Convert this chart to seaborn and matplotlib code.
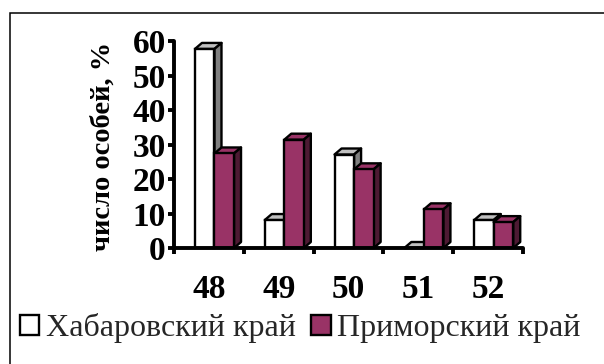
import numpy as np
import pandas as pd
import matplotlib
matplotlib.use("Agg")
import matplotlib.pyplot as plt
from matplotlib.patches import Polygon, Rectangle
import seaborn as sns

# Data
categories = ["48", "49", "50", "51", "52"]
series_names = ["Хабаровский край", "Приморский край"]
khabarovsk = [57.7, 8.1, 27.1, 0.0, 8.1]
primorsky = [27.4, 31.4, 22.8, 11.2, 7.5]
y_ticks = [0, 10, 20, 30, 40, 50, 60]

front_colors = ["#ffffff", "#993366"]
top_colors = ["#c0c0c0", "#993366"]
side_colors = ["#808080", "#4d1a33"]

df = pd.DataFrame({
    "cat": categories * 2,
    "region": [series_names[0]] * 5 + [series_names[1]] * 5,
    "val": khabarovsk + primorsky,
})

sns.set_theme(style="white")
plt.rcParams["font.family"] = ["Liberation Serif", "DejaVu Serif"]

W, H = 604, 364
fig = plt.figure(figsize=(W / 100, H / 100), dpi=100)
ax_l, ax_r, ax_t, ax_b = 174, 523, 41, 248
ax = fig.add_axes([ax_l / W, 1 - ax_b / H, (ax_r - ax_l) / W, (ax_b - ax_t) / H])

sns.barplot(data=df, x="cat", y="val", hue="region", order=categories,
            hue_order=series_names, palette=front_colors, width=0.56,
            edgecolor="black", linewidth=1.7, saturation=1, ax=ax, legend=False)

ax.set_xlim(-0.5, 4.5)
ax.set_ylim(0, 60)

# depth of the 3-D effect, in pixels converted to data units
depth_px_x, depth_px_y = 7.0, 6.0
dx = depth_px_x * 5.0 / (ax_r - ax_l)
dy = depth_px_y * 60.0 / (ax_b - ax_t)
shift = 0.08

bars = list(ax.patches)
for i, p in enumerate(bars):
    s = i // len(categories)
    p.set_x(p.get_x() + shift)
    x0, y0 = p.get_x(), p.get_y()
    x1, y1 = x0 + p.get_width(), y0 + p.get_height()
    base = 2 + s * 3
    top = Polygon([(x0, y1), (x1, y1), (x1 + dx, y1 + dy), (x0 + dx, y1 + dy)],
                  closed=True, facecolor=top_colors[s], edgecolor="black",
                  linewidth=1.7, zorder=base, clip_on=False, joinstyle="round")
    side = Polygon([(x1, y0), (x1 + dx, y0 + dy), (x1 + dx, y1 + dy), (x1, y1)],
                   closed=True, facecolor=side_colors[s], edgecolor="black",
                   linewidth=1.7, zorder=base + 1, clip_on=False, joinstyle="round")
    ax.add_patch(top)
    ax.add_patch(side)
    p.set_zorder(base + 2)
    p.set_clip_on(False)

# axes styling
for sp in ["top", "right"]:
    ax.spines[sp].set_visible(False)
for sp in ["left", "bottom"]:
    ax.spines[sp].set_linewidth(2.8)
    ax.spines[sp].set_color("black")
    ax.spines[sp].set_zorder(20)
    ax.spines[sp].set_capstyle("round")

ax.set_yticks(y_ticks)
ax.set_yticklabels([str(v) for v in y_ticks])
ax.set_xticks(range(len(categories)))
ax.set_xticklabels(categories)
ax.set_xticks(np.arange(-0.5, 4.6, 0.5), minor=True)
ax.tick_params(axis="y", which="major", direction="out", length=4, width=2.8,
               color="black", pad=2, labelsize=24, left=True)
ax.tick_params(axis="x", which="major", length=0, pad=19, labelsize=24, bottom=True)
ax.tick_params(axis="x", which="minor", direction="out", length=4, width=2.8,
               color="black", bottom=True)
for lab in ax.get_xticklabels() + ax.get_yticklabels():
    lab.set_fontweight("bold")
    lab.set_color("black")

ax.set_xlabel("")
ax.set_ylabel("число особей, %", fontsize=20.5, fontweight="bold", color="black")
ax.yaxis.set_label_coords(-0.168, 0.49)
ax.grid(False)
ax.set_facecolor("none")

# legend
handles = [Rectangle((0, 0), 1, 1, facecolor=front_colors[k], edgecolor="black",
                     linewidth=1.7) for k in range(2)]
fig.legend(handles, series_names, loc="center", bbox_to_anchor=(0.497, 1 - 328 / H),
           ncol=2, frameon=False, prop={"family": "Liberation Serif", "size": 23},
           handlelength=0.6, handleheight=0.6, handletextpad=0.2,
           columnspacing=0.5, borderpad=0, borderaxespad=0)

# chart-area border (open at right and bottom)
fig.add_artist(Rectangle((10 / W, -0.2), 1.2, 1 - 12.5 / H + 0.2,
                         transform=fig.transFigure, fill=False,
                         edgecolor="black", linewidth=1.1))

fig.savefig("out.png", dpi=100, facecolor="white")
